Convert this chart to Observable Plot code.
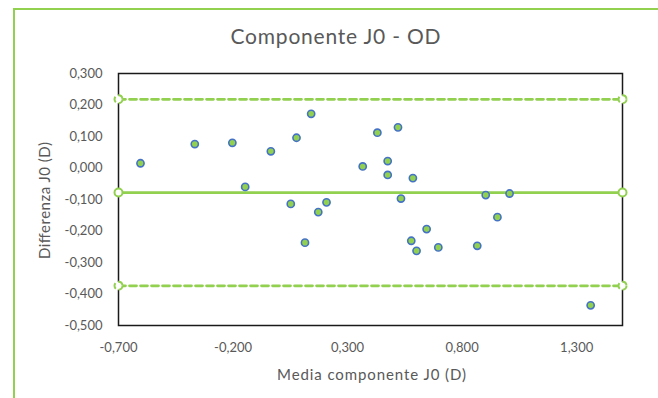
<!DOCTYPE html>
<html>
<head>
<meta charset="utf-8">
<script src="https://cdn.jsdelivr.net/npm/d3@7"></script>
<script src="https://cdn.jsdelivr.net/npm/@observablehq/plot@0.6"></script>
<style>
  html, body { margin: 0; padding: 0; background: #fff; }
  #wrap { position: relative; width: 658px; height: 398px; overflow: hidden; background: #fff; }
  #border { position: absolute; left: 13px; top: 8px; width: 700px; height: 450px; border-top: 2px solid #92D050; border-left: 2px solid #92D050; pointer-events: none; }
  #wrap svg { position: absolute; left: 0; top: 0; }
</style>
</head>
<body>
<div id="wrap"><div id="border"></div></div>
<script>
// Bland-Altman data: mean of J0 component (x) and difference (y)
const mediaJ0 = [-0.604, -0.367, -0.203, -0.147, -0.035, 0.077, 0.141, 0.052, 0.172, 0.208, 0.114,
  0.366, 0.430, 0.520, 0.475, 0.475, 0.585, 0.533, 0.903, 1.007, 0.954, 0.645, 0.578, 0.601, 0.696, 0.866, 1.361];
const differenzaJ0 = [0.015, 0.076, 0.080, -0.060, 0.053, 0.096, 0.172, -0.114, -0.140, -0.109, -0.237,
  0.005, 0.112, 0.129, 0.022, -0.022, -0.032, -0.097, -0.086, -0.081, -0.156, -0.194, -0.231, -0.263, -0.252, -0.247, -0.436];

const lineX = [-0.7, 1.5];           // ends of the reference lines
const meanDiff = -0.078;             // mean difference
const upperLoA = 0.218;              // upper limit of agreement
const lowerLoA = -0.374;             // lower limit of agreement

const xTicks = [-0.7, -0.2, 0.3, 0.8, 1.3];
const yTicks = [-0.5, -0.4, -0.3, -0.2, -0.1, 0.0, 0.1, 0.2, 0.3];

const titleText = "Componente J0 - OD";
const xLabel = "Media componente J0 (D)";
const yLabel = "Differenza J0 (D)";

const GREEN = "#92D050";
const BLUE = "#4472C4";
const TEXT = "#595959";

const loc = d3.formatLocale({decimal: ",", thousands: ".", grouping: [3], currency: ["", "€"], minus: "-"});
const fmt = loc.format(".3f");

const points = mediaJ0.map((x, i) => ({x, y: differenzaJ0[i]}));
const meanLine = lineX.map(x => ({x, y: meanDiff}));
const loaLines = [
  ...lineX.map(x => ({x, y: upperLoA, k: "up"})),
  ...lineX.map(x => ({x, y: lowerLoA, k: "lo"}))
];

const chart = Plot.plot({
  width: 658,
  height: 398,
  marginLeft: 118,
  marginRight: 36,
  marginTop: 73,
  marginBottom: 73,
  style: {fontFamily: "Lato, 'Open Sans', sans-serif", background: "transparent", color: TEXT},
  x: {domain: [-0.7, 1.5], ticks: xTicks, tickFormat: fmt, label: null},
  y: {domain: [-0.5, 0.3], ticks: yTicks, tickFormat: fmt, label: null},
  marks: [
    Plot.frame({stroke: "#1a1a1a", strokeWidth: 1.5}),
    Plot.axisX({ticks: xTicks, tickFormat: fmt, tickSize: 0, tickPadding: 17, fontSize: 13, fill: TEXT, label: null}),
    Plot.axisY({ticks: yTicks, tickFormat: fmt, tickSize: 0, tickPadding: 16, fontSize: 13, fill: TEXT, label: null}),
    Plot.line(loaLines, {x: "x", y: "y", z: "k", stroke: GREEN, strokeWidth: 2.75, strokeDasharray: "7,4"}),
    Plot.dot(loaLines, {x: "x", y: "y", r: 4, fill: "white", stroke: GREEN, strokeWidth: 2, strokeDasharray: "6,3"}),
    Plot.line(meanLine, {x: "x", y: "y", stroke: GREEN, strokeWidth: 2.75}),
    Plot.dot(meanLine, {x: "x", y: "y", r: 4, fill: "white", stroke: GREEN, strokeWidth: 2}),
    Plot.dot(points, {x: "x", y: "y", r: 3.6, fill: GREEN, stroke: BLUE, strokeWidth: 1.6}),
    Plot.text([titleText], {frameAnchor: "top", textAnchor: "middle", lineAnchor: "middle", dx: -35, dy: -36, text: d => d, fontSize: 21, fill: TEXT}),
    Plot.text([xLabel], {frameAnchor: "bottom", textAnchor: "middle", lineAnchor: "middle", dx: 1, dy: 50, text: d => d, fontSize: 15, fill: TEXT}),
    Plot.text([yLabel], {frameAnchor: "left", textAnchor: "middle", lineAnchor: "middle", dx: -73, dy: 1, rotate: -90, text: d => d, fontSize: 15, fill: TEXT})
  ]
});
// stretch label texts to the widths they occupy in the reference
const fits = {[titleText]: 210, [xLabel]: 189, [yLabel]: 117};
d3.select(chart).selectAll("text").each(function () {
  const t = this.textContent;
  if (fits[t]) {
    this.setAttribute("textLength", fits[t]);
    this.setAttribute("lengthAdjust", "spacing");
  }
});
document.getElementById("wrap").appendChild(chart);
</script>
</body>
</html>
